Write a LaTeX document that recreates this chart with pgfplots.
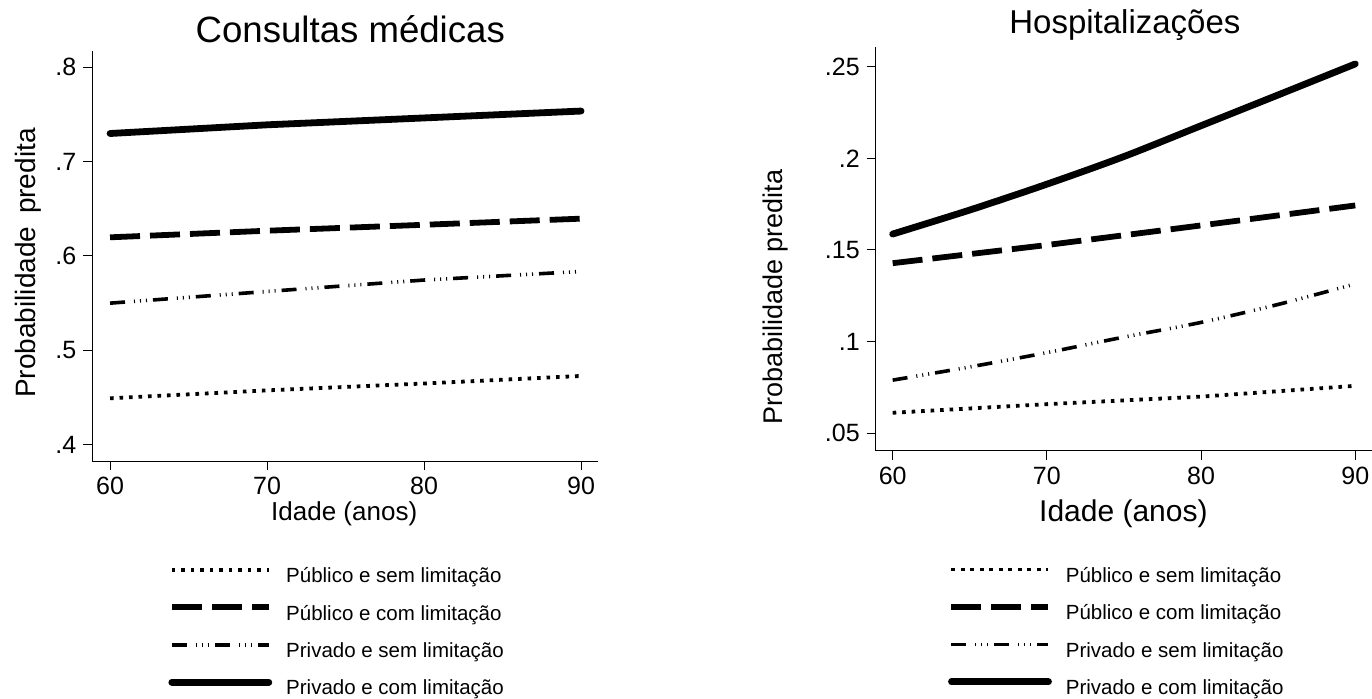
\documentclass[border=0pt]{standalone}
\usepackage{fontspec}
\setmainfont{Liberation Sans}
\usepackage{pgfplots}
\pgfplotsset{compat=1.18}

\pgfplotsset{
  stata/.style={
    axis lines*=left,
    axis line style={-, line width=0.5bp},
    tick align=outside,
    major tick length=4.5bp,
    every tick/.style={black, line width=0.5bp},
    xticklabel style={font=\fontsize{12.5bp}{14bp}\selectfont},
    yticklabel style={font=\fontsize{12.5bp}{14bp}\selectfont},
    /pgf/number format/assume math mode=true,
    xtick={60,70,80,90},
    clip=false,
    legend cell align=left,
    legend style={draw=none, fill=none, inner sep=0pt, anchor=north west,
      font=\fontsize{10.25bp}{12bp}\selectfont,
      nodes={inner sep=0pt, text height=8bp, text depth=2.5bp},
      row sep=8.2bp, column sep=7bp},
    legend image code/.code={\draw[##1] (0bp,3.6bp) -- (48.5bp,3.6bp);},
  },
  pubsem/.style={black, line width=1.9bp, dash pattern=on 1.8bp off 2.95bp},
  pubcom/.style={black, line width=2.9bp, dash pattern=on 15bp off 5bp},
  privsem/.style={black, line width=1.8bp, dash pattern=on 7.5bp off 4.5bp on 0.5bp off 2.5bp on 0.5bp off 2.5bp on 0.5bp off 3bp},
  privcom/.style={black, line width=3.4bp, line cap=round},
}

\begin{document}
\begin{tikzpicture}
\path[use as bounding box] (0,0) rectangle (686bp,-349.5bp);

% Consultas medicas
\begin{axis}[stata,
  at={(46.15bp,-230.5bp)}, anchor=south west,
  x=7.85bp, y=471.5bp,
  xmin=58.87, xmax=91.09, ymin=0.3825, ymax=0.8175,
  ytick={0.4,0.5,0.6,0.7,0.8},
  yticklabels={.4,.5,.6,.7,.8},
  title={Consultas médicas},
  title style={at={(axis description cs:0.51,1.021)}, anchor=base, yshift=-6pt,
    font=\fontsize{18.3bp}{20bp}\selectfont},
  xlabel={Idade (anos)},
  xlabel style={at={(axis description cs:0.498,-0.146)}, anchor=base,
    font=\fontsize{13bp}{15bp}\selectfont},
  ylabel={Probabilidade\hspace{0.45em}predita},
  ylabel style={at={(axis description cs:-0.127,0.4826)}, anchor=center,
    font=\fontsize{14bp}{16bp}\selectfont},
  legend style={at={(axis description cs:0.1497,-0.2565)}},
]
\addplot[pubsem] coordinates {(60,0.449) (70,0.4574) (80,0.4647) (90,0.4727)};
\addlegendentry{Público e sem limitação}
\addplot[pubcom] coordinates {(60,0.6197) (70,0.6267) (80,0.633) (90,0.6395)};
\addlegendentry{Público e com limitação}
\addplot[privsem] coordinates {(60,0.5499) (70,0.5623) (80,0.5744) (90,0.5835)};
\addlegendentry{Privado e sem limitação}
\addplot[privcom] coordinates {(60,0.7298) (70,0.739) (80,0.7463) (90,0.7536)};
\addlegendentry{Privado e com limitação}
\end{axis}

% Hospitalizacoes
\begin{axis}[stata,
  at={(437.85bp,-225.35bp)}, anchor=south west,
  x=7.71bp, y=916.5bp,
  xmin=58.9, xmax=91.09, ymin=0.0405, ymax=0.2606,
  ytick={0.05,0.1,0.15,0.2,0.25},
  yticklabels={.05,.1,.15,.2,.25},
  title={Hospitalizações},
  title style={at={(axis description cs:0.502,1.033)}, anchor=base, yshift=-6pt,
    font=\fontsize{16.5bp}{18bp}\selectfont},
  xlabel={Idade (anos)},
  xlabel style={at={(axis description cs:0.499,-0.176)}, anchor=base,
    font=\fontsize{15bp}{17bp}\selectfont},
  ylabel={Probabilidade predita},
  ylabel style={at={(axis description cs:-0.201,0.381)}, anchor=center,
    font=\fontsize{13.5bp}{15bp}\selectfont},
  legend style={at={(axis description cs:0.145,-0.2855)}},
]
\addplot[pubsem] coordinates {(60,0.0612) (70,0.0659) (80,0.0700) (90,0.0759)};
\addlegendentry{Público e sem limitação}
\addplot[pubcom] coordinates {(60,0.1428) (70,0.1527) (80,0.1634) (90,0.1743)};
\addlegendentry{Público e com limitação}
\addplot[privsem, smooth] coordinates {(60,0.079) (65,0.0862) (70,0.094) (75,0.1025) (80,0.1105) (85,0.1203) (90,0.1315)};
\addlegendentry{Privado e sem limitação}
\addplot[privcom, smooth] coordinates {(60,0.1587) (65,0.1718) (70,0.1859) (75,0.201) (80,0.2178) (85,0.2346) (90,0.2515)};
\addlegendentry{Privado e com limitação}
\end{axis}
\end{tikzpicture}
\end{document}
